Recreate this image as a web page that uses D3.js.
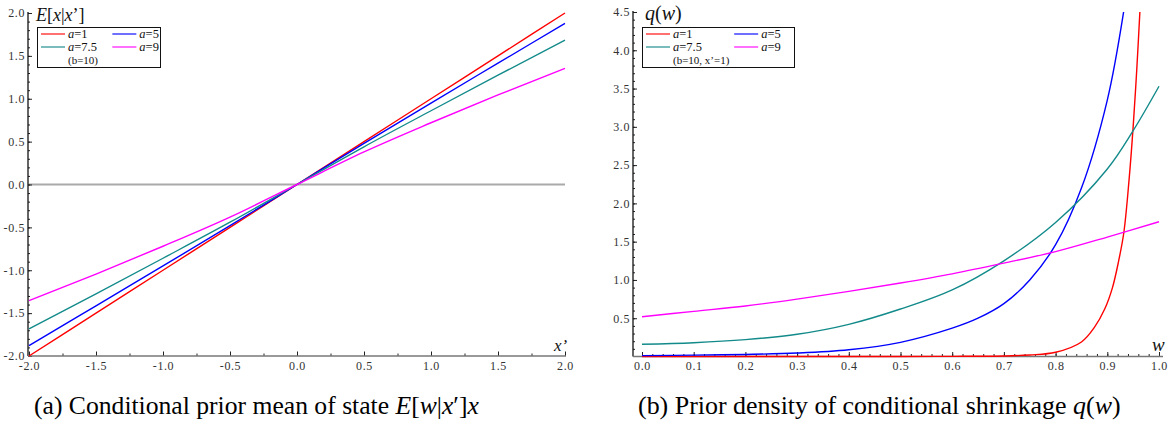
<!DOCTYPE html>
<html>
<head>
<meta charset="utf-8">
<script src="https://d3js.org/d3.v7.min.js"></script>
<style>
  body { margin: 0; background: #fff; }
  svg { display: block; }
  .tick text { font-family: "Liberation Serif", "DejaVu Serif", serif; font-size: 12px; letter-spacing: 0.6px; fill: #333; }
  .lbl { font-family: "Liberation Serif", "DejaVu Serif", serif; fill: #111; }
  .caption { font-family: "Liberation Serif", "DejaVu Serif", serif; fill: #000; }
</style>
</head>
<body>
<svg id="fig" width="1172" height="430"></svg>
<script>
// panel (a): conditional prior mean E[x|x'], b = 10
const xPrime  = [-2, -1.5, -1, -0.5, 0, 0.5, 1, 1.5, 2];
const meanA1  = [-2, -1.5, -1, -0.5, 0, 0.5, 1, 1.5, 2];
const meanA5  = [-1.88, -1.415, -0.95, -0.48, 0, 0.48, 0.95, 1.415, 1.88];
const meanA75 = [-1.685, -1.275, -0.86, -0.44, 0, 0.44, 0.86, 1.275, 1.685];
const meanA9  = [-1.355, -1.045, -0.72, -0.38, 0, 0.38, 0.72, 1.045, 1.355];
const ticksXA = [-2, -1.5, -1, -0.5, 0, 0.5, 1, 1.5, 2];
const ticksYA = [-2, -1.5, -1, -0.5, 0, 0.5, 1, 1.5, 2];

// panel (b): prior density q(w), b = 10, x' = 1
const wA1 = [0, 0.5, 0.6, 0.7, 0.75, 0.8, 0.85, 0.875, 0.895, 0.91, 0.922, 0.932, 0.942, 0.95, 0.957, 0.963];
const qA1 = [0, 0.0005, 0.002, 0.007, 0.02, 0.055, 0.19, 0.38, 0.62, 0.9, 1.25, 1.62, 2.3, 3.0, 3.75, 4.5];
const wA5 = [0, 0.1, 0.2, 0.3, 0.4, 0.5, 0.6, 0.65, 0.7, 0.75, 0.8, 0.85, 0.9, 0.932];
const qA5 = [0.012, 0.018, 0.027, 0.045, 0.088, 0.185, 0.37, 0.5, 0.69, 1.0, 1.46, 2.2, 3.35, 4.52];
const wA75 = [0, 0.1, 0.2, 0.3, 0.4, 0.5, 0.6, 0.7, 0.8, 0.9, 0.95, 1.0];
const qA75 = [0.16, 0.18, 0.22, 0.29, 0.42, 0.62, 0.87, 1.25, 1.75, 2.45, 2.95, 3.53];
const wA9 = [0, 0.1, 0.2, 0.3, 0.4, 0.5, 0.6, 0.7, 0.8, 0.9, 1.0];
const qA9 = [0.52, 0.59, 0.66, 0.75, 0.85, 0.96, 1.08, 1.22, 1.37, 1.56, 1.76];
const ticksXB = [0, 0.1, 0.2, 0.3, 0.4, 0.5, 0.6, 0.7, 0.8, 0.9, 1.0];
const ticksYB = [0.5, 1, 1.5, 2, 2.5, 3, 3.5, 4, 4.5];

const legendA = ["1", "5", "7.5", "9"];
const colors = ["#ff0000", "#0000ff", "#138a8a", "#ff00ff"];

const svg = d3.select("#fig");
const fmt = d => d.toFixed(1);

function minorTicks(lo, hi, step) {
    const n = Math.round((hi - lo) / step);
    return d3.range(n + 1).map(i => +(lo + i * step).toFixed(4));
}

function axes(x, y, axisX, axisY, opt) {
    const g = svg.append("g");
    // minor ticks
    g.append("g").attr("transform", `translate(${axisX},0)`)
        .call(d3.axisLeft(y).tickValues(opt.yMinor).tickSize(-2).tickFormat(""))
        .call(s => s.select(".domain").remove());
    g.append("g").attr("transform", `translate(0,${axisY})`)
        .call(d3.axisBottom(x).tickValues(opt.xMinor).tickSize(-2.5).tickFormat(""))
        .call(s => s.select(".domain").remove());
    // major ticks
    g.append("g").attr("transform", `translate(${axisX},0)`)
        .call(d3.axisLeft(y).tickValues(opt.yTicks).tickSize(-4).tickPadding(3).tickFormat(fmt))
        .call(s => s.select(".domain").remove());
    g.append("g").attr("transform", `translate(0,${axisY})`)
        .call(d3.axisBottom(x).tickValues(opt.xTicks).tickSize(-4.5).tickPadding(5).tickFormat(fmt))
        .call(s => s.select(".domain").remove());
    g.selectAll(".tick line").attr("stroke", "#222");
    // axis lines
    g.append("line").attr("x1", axisX).attr("x2", axisX)
        .attr("y1", y.range()[1] - 1).attr("y2", axisY)
        .attr("stroke", "#111").attr("stroke-width", 1.3);
    g.append("line").attr("x1", axisX).attr("x2", opt.xEnd)
        .attr("y1", axisY).attr("y2", axisY)
        .attr("stroke", "#777").attr("stroke-width", 1.6);
}

function legend(x0, y0, w, note) {
    const g = svg.append("g");
    g.append("rect").attr("x", x0 + 0.5).attr("y", y0 + 0.5).attr("width", w).attr("height", 40)
        .attr("fill", "#fff").attr("stroke", "#111").attr("stroke-width", 1);
    legendA.forEach((a, i) => {
        const cx = x0 + 4 + (i % 2) * w * 0.58;
        const cy = y0 + 7 + Math.floor(i / 2) * 13;
        g.append("line").attr("x1", cx).attr("x2", cx + 24).attr("y1", cy).attr("y2", cy)
            .attr("stroke", colors[i]).attr("stroke-width", 1.6).attr("opacity", 0.7);
        const t = g.append("text").attr("class", "lbl").attr("x", cx + 27).attr("y", cy + 4)
            .attr("font-size", 12.5);
        t.append("tspan").attr("font-style", "italic").text("a");
        t.append("tspan").text("=" + a);
    });
    g.append("text").attr("class", "lbl").attr("x", x0 + 31).attr("y", y0 + 37)
        .attr("font-size", 11).text(note);
}

// ---------- panel (a)
const xA = d3.scaleLinear().domain([-2, 2]).range([29, 565]);
const yA = d3.scaleLinear().domain([-2, 2]).range([356, 13]);

svg.append("line").attr("x1", xA(-2)).attr("x2", xA(2)).attr("y1", yA(0)).attr("y2", yA(0))
    .attr("stroke", "#aaa").attr("stroke-width", 2);

axes(xA, yA, 28, 356, {
    yTicks: ticksYA, xTicks: ticksXA,
    yMinor: minorTicks(-2, 2, 0.1), xMinor: minorTicks(-2, 2, 0.25), xEnd: 566
});

const lineA = d3.line().x(d => xA(d[0])).y(d => yA(d[1])).curve(d3.curveMonotoneX);
[meanA1, meanA5, meanA75, meanA9].forEach((ser, i) => {
    svg.append("path").datum(xPrime.map((v, j) => [v, ser[j]]))
        .attr("d", lineA).attr("fill", "none").attr("stroke", colors[i]).attr("stroke-width", 1.4);
});

const tA = svg.append("text").attr("class", "lbl").attr("x", 36).attr("y", 21).attr("font-size", 18);
tA.append("tspan").attr("font-style", "italic").text("E");
tA.append("tspan").text("[");
tA.append("tspan").attr("font-style", "italic").text("x");
tA.append("tspan").text("|");
tA.append("tspan").attr("font-style", "italic").text("x");
tA.append("tspan").text("’]");

svg.append("text").attr("class", "lbl").attr("x", 554).attr("y", 351).attr("font-size", 17)
    .attr("font-style", "italic").text("x’");

legend(37, 27, 123, "(b=10)");

// ---------- panel (b)
const xB = d3.scaleLinear().domain([0, 1]).range([642, 1159]);
const yB = d3.scaleLinear().domain([0, 4.5]).range([356.5, 12]);

svg.append("clipPath").attr("id", "clipB").append("rect")
    .attr("x", 633).attr("y", 12).attr("width", 535).attr("height", 346);

const lineB = d3.line().x(d => xB(d[0])).y(d => yB(d[1])).curve(d3.curveCatmullRom.alpha(0.5));

axes(xB, yB, 633, 356.5, {
    yTicks: ticksYB, xTicks: ticksXB,
    yMinor: minorTicks(0.1, 4.5, 0.1), xMinor: minorTicks(0, 1, 0.02), xEnd: 1163
});

[[wA1, qA1], [wA5, qA5], [wA75, qA75], [wA9, qA9]].forEach(([ws, qs], i) => {
    svg.append("path").datum(ws.map((v, j) => [v, qs[j]]))
        .attr("clip-path", "url(#clipB)")
        .attr("d", lineB).attr("fill", "none").attr("stroke", colors[i]).attr("stroke-width", 1.4);
});

const tB = svg.append("text").attr("class", "lbl").attr("x", 645).attr("y", 20).attr("font-size", 20);
tB.append("tspan").attr("font-style", "italic").text("q");
tB.append("tspan").text("(");
tB.append("tspan").attr("font-style", "italic").text("w");
tB.append("tspan").text(")");

svg.append("text").attr("class", "lbl").attr("x", 1152).attr("y", 351).attr("font-size", 19)
    .attr("font-style", "italic").text("w");

legend(642, 27, 152, "(b=10, x’=1)");

// ---------- captions
function caption(x, parts, target) {
    const t = svg.append("text").attr("class", "caption").attr("x", x).attr("y", 414).attr("font-size", 20);
    parts.forEach(p => t.append("tspan").attr("font-style", p[1] ? "italic" : null).text(p[0]));
    const w = t.node().getComputedTextLength();
    t.attr("font-size", 20 * target / w);
}
caption(34, [["(a) Conditional prior mean of state "], ["E", 1], ["["], ["w", 1], ["|"], ["x", 1], ["′]"], ["x", 1]], 445);
caption(638, [["(b) Prior density of conditional shrinkage "], ["q", 1], ["("], ["w", 1], [")"]], 483);
</script>
</body>
</html>
